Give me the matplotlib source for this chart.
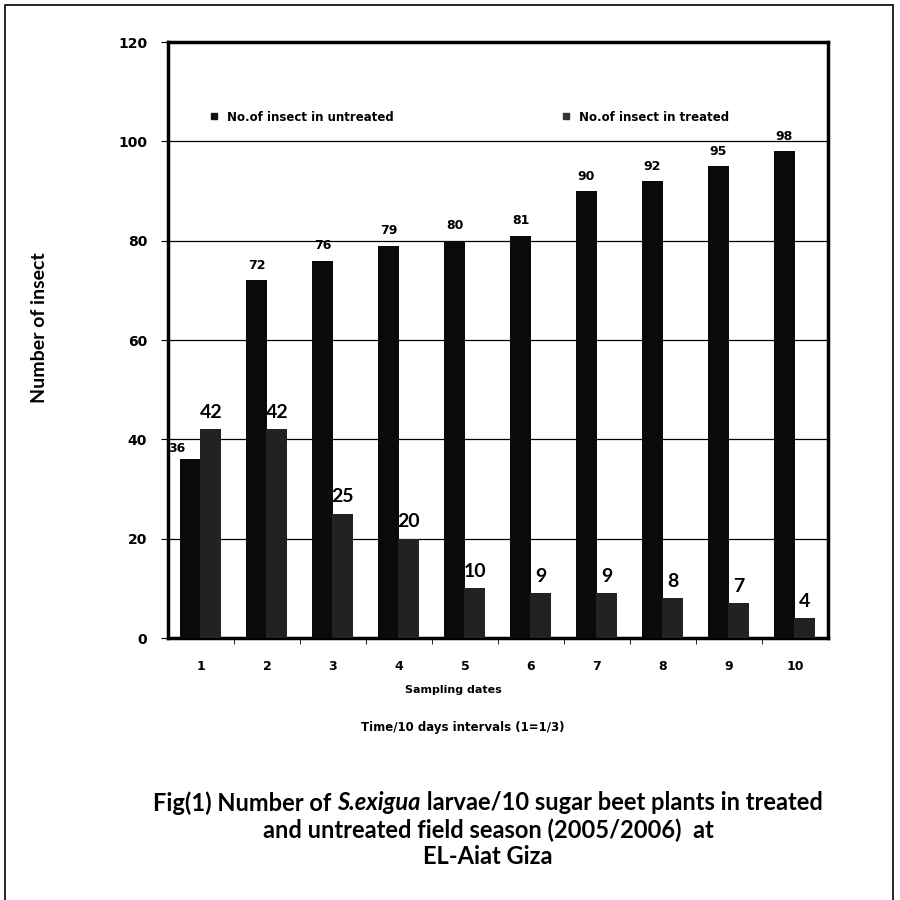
import matplotlib
matplotlib.use("Agg")
import matplotlib.pyplot as plt
from matplotlib.patches import Rectangle
from matplotlib.lines import Line2D
import numpy as np

categories = ["1", "2", "3", "4", "5", "6", "7", "8", "9", "10"]
untreated = [36, 72, 76, 79, 80, 81, 90, 92, 95, 98]
treated = [42, 42, 25, 20, 10, 9, 9, 8, 7, 4]
series_names = ["No.of insect in untreated", "No.of insect in treated"]
yticks = [0, 20, 40, 60, 80, 100, 120]

plt.rcParams['font.family'] = ['Lato', 'DejaVu Sans']

fig = plt.figure(figsize=(9, 9), dpi=100)
fig.patch.set_facecolor("white")
ax = fig.add_axes([168/900, 1-638/900, 660/900, 596/900])

x = np.arange(1, len(categories) + 1)
w = 0.32
b1 = ax.bar(x - 0.16, untreated, width=w, color="#0a0a0a", zorder=3)
b2 = ax.bar(x + 0.15, treated, width=w, color="#222222", zorder=3)

for rect, v in zip(b1, untreated):
    cx = rect.get_x() + rect.get_width()/2
    if v == 36:
        ax.annotate(str(v), (cx - 0.2, v), xytext=(0, 3), textcoords="offset points",
                    ha="center", va="bottom", fontsize=9, fontweight="bold",
                    family="DejaVu Sans", zorder=5)
    else:
        ax.annotate(str(v), (cx, v), xytext=(0, 6), textcoords="offset points",
                    ha="center", va="bottom", fontsize=9, fontweight="bold",
                    family="DejaVu Sans", zorder=5)
for rect, v in zip(b2, treated):
    cx = rect.get_x() + rect.get_width()/2
    ax.annotate(str(v), (cx, v), xytext=(0, 6), textcoords="offset points",
                ha="center", va="bottom", fontsize=14, fontweight="bold", zorder=5)

ax.set_xlim(0.5, 10.5)
ax.set_ylim(0, 120)
ax.set_yticks(yticks)
ax.set_yticklabels([str(t) for t in yticks], fontsize=10, fontweight="bold",
                   family="DejaVu Sans")
ax.set_xticks(x)
ax.set_xticklabels(categories, fontsize=9, fontweight="bold", family="DejaVu Sans")
ax.set_xticks(np.arange(1.5, 10.5, 1), minor=True)
ax.tick_params(axis="x", which="major", length=0, pad=16)
ax.tick_params(axis="x", which="minor", length=4, direction="out")
ax.tick_params(axis="y", length=5, direction="out", pad=10)
ax.grid(axis="y", color="black", linewidth=0.9, zorder=0)
for s in ax.spines.values():
    s.set_linewidth(2.5)
    s.set_color("black")

handles = [Line2D([], [], marker="s", linestyle="none", color="#111111", markersize=4),
           Line2D([], [], marker="s", linestyle="none", color="#333333", markersize=4)]
ax.legend(handles, series_names, ncol=2, loc="center left",
          bbox_to_anchor=(0.036, 0.874), frameon=False, handletextpad=0.1,
          columnspacing=13.6, prop={"weight": "bold", "size": 8.5, "family": "DejaVu Sans"})

fig.text(453/900, 1-690/900, "Sampling dates", ha="center", va="center",
         fontsize=8, fontweight="bold", family="DejaVu Sans")
fig.text(40/900, 1-328/900, "Number of insect", rotation=90, ha="center", va="center",
         fontsize=14, fontweight="bold")
fig.text(463/900, 1-728/900, "Time/10 days intervals (1=1/3)", ha="center", va="center",
         fontsize=8.5, fontweight="bold", family="DejaVu Sans")

# caption (first line mixes upright and italic)
cap_fs = 17
renderer = fig.canvas.get_renderer()
parts = [("Fig(1) Number of ", "normal"), ("S.exigua", "italic"),
         (" larvae/10 sugar beet plants in treated", "normal")]
texts = []
for s, st in parts:
    t = fig.text(0, 1-803/900, s, ha="left", va="center", fontsize=cap_fs,
                 fontweight="bold", fontstyle=st)
    texts.append(t)
widths = [t.get_window_extent(renderer).width for t in texts]
total = sum(widths)
x0 = 488 - total/2
for t, wd in zip(texts, widths):
    t.set_x(x0/900)
    x0 += wd
fig.text(488/900, 1-830/900, "and untreated field season (2005/2006)  at",
         ha="center", va="center", fontsize=cap_fs, fontweight="bold")
fig.text(488/900, 1-856/900, "EL-Aiat Giza",
         ha="center", va="center", fontsize=cap_fs, fontweight="bold")

fig.add_artist(Rectangle((5/900, -10/900), 888/900, 905/900, transform=fig.transFigure,
                         fill=False, edgecolor="black", linewidth=1.2))

fig.savefig("out.png", dpi=100)
